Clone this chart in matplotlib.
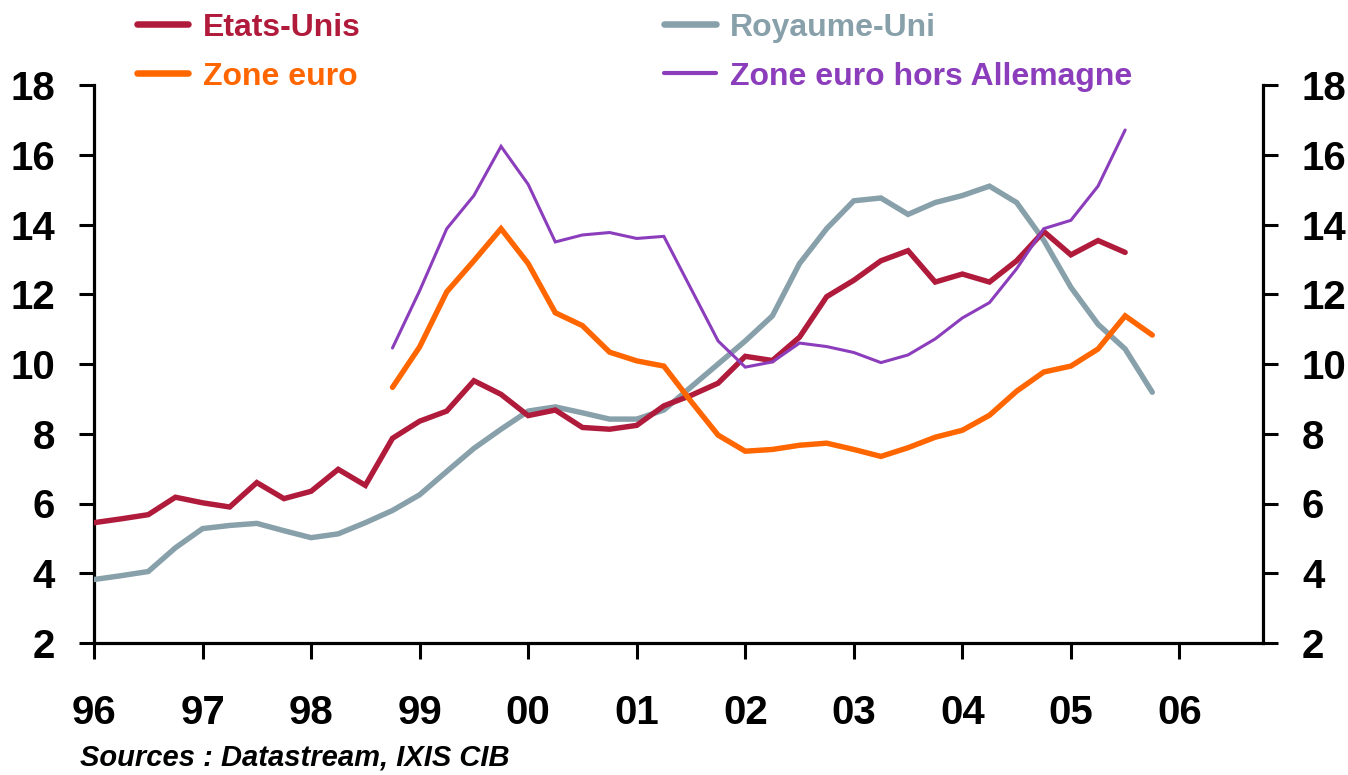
import matplotlib
matplotlib.use("Agg")
import matplotlib.pyplot as plt
from matplotlib.lines import Line2D
import numpy as np

plt.rcParams['font.family'] = ['Liberation Sans', 'DejaVu Sans']

# ---- data (quarterly) ----
us_start = 1996.0
us_vals = [5.45, 5.56, 5.68, 6.18, 6.02, 5.90, 6.60, 6.14, 6.35, 6.98, 6.52, 7.87,
           8.36, 8.65, 9.52, 9.13, 8.52, 8.68, 8.18, 8.13, 8.24, 8.80, 9.10, 9.45,
           10.22, 10.10, 10.77, 11.93, 12.40, 12.96, 13.25, 12.35, 12.58, 12.35,
           12.96, 13.80, 13.13, 13.54, 13.20]

uk_start = 1996.0
uk_vals = [3.82, 3.93, 4.05, 4.73, 5.28, 5.37, 5.43, 5.22, 5.02, 5.13, 5.45, 5.80,
           6.25, 6.92, 7.58, 8.13, 8.65, 8.77, 8.60, 8.42, 8.42, 8.68, 9.34, 10.00,
           10.66, 11.38, 12.88, 13.88, 14.68, 14.76, 14.29, 14.63, 14.83, 15.10,
           14.63, 13.55, 12.20, 11.14, 10.43, 9.19]

ez_start = 1998.75
ez_vals = [9.33, 10.49, 12.07, 12.96, 13.88, 12.88, 11.47, 11.10, 10.34, 10.09,
           9.94, 8.93, 7.96, 7.50, 7.55, 7.67, 7.73, 7.55, 7.35, 7.60, 7.90, 8.10,
           8.53, 9.22, 9.77, 9.94, 10.43, 11.38, 10.83]

ezx_start = 1998.75
ezx_vals = [10.46, 12.10, 13.88, 14.83, 16.24, 15.15, 13.50, 13.70, 13.77, 13.60,
            13.66, 12.16, 10.66, 9.91, 10.06, 10.60, 10.50, 10.33, 10.04, 10.26,
            10.72, 11.32, 11.76, 12.73, 13.88, 14.12, 15.10, 16.71]

year_ticks = [1996, 1997, 1998, 1999, 2000, 2001, 2002, 2003, 2004, 2005, 2006]
year_labels = ['96', '97', '98', '99', '00', '01', '02', '03', '04', '05', '06']
y_ticks = [2, 4, 6, 8, 10, 12, 14, 16, 18]

names = ['Etats-Unis', 'Royaume-Uni', 'Zone euro', 'Zone euro hors Allemagne']
colors = ['#B01B3C', '#87A0AA', '#FF6600', '#8B3DBC']
widths = [3.9, 3.9, 3.9, 2.2]


def qx(start, vals):
    return start + 0.25 * np.arange(len(vals))


fig = plt.figure(figsize=(13.48, 7.75), dpi=100)
ax = fig.add_axes([94/1348, 1 - 643/775, (1263-94)/1348, (643-85)/775])

series = [(us_start, us_vals), (uk_start, uk_vals), (ez_start, ez_vals), (ezx_start, ezx_vals)]
order = [1, 0, 2, 3]
for i in order:
    s, v = series[i]
    ax.plot(qx(s, v), v, color=colors[i], lw=widths[i], solid_capstyle='round',
            solid_joinstyle='miter', zorder=3)

ax.set_xlim(1996, 2006.77)
ax.set_ylim(2, 18)
ax.set_xticks(year_ticks)
ax.set_xticklabels(year_labels)
ax.set_yticks(y_ticks)
ax.set_yticklabels([str(t) for t in y_ticks])

for sp in ['left', 'right', 'bottom']:
    ax.spines[sp].set_linewidth(2.3)
ax.spines['top'].set_visible(False)

ax.tick_params(axis='x', direction='out', length=11.5, width=2.2, pad=25,
               labelsize=29)
ax.tick_params(axis='y', direction='out', length=11, width=2.2, pad=17,
               labelsize=29, right=True, labelright=True, left=True, labelleft=True)
for lab in ax.get_xticklabels() + ax.get_yticklabels():
    lab.set_fontweight('bold')
for t in ax.yaxis.get_major_ticks():
    t.label2.set_fontweight('bold')

# legend drawn manually at the top
leg_pos = [(137, 188, 203, 24), (664, 716, 730, 24), (137, 188, 203, 73), (664, 716, 730, 73)]
for (x0, x1, xt, yc), name, col, w in zip(leg_pos, names, colors, widths):
    fig.add_artist(Line2D([x0/1348, x1/1348], [1 - yc/775, 1 - yc/775],
                          transform=fig.transFigure, color=col, lw=w + 0.8,
                          solid_capstyle='round'))
    fig.text(xt/1348, 1 - (yc + 12)/775, name, color=col, fontsize=23,
             fontweight='bold', ha='left', va='baseline')

fig.text(80/1348, 1 - 766/775, 'Sources : Datastream, IXIS CIB', fontsize=21,
         fontweight='bold', fontstyle='italic', ha='left', va='baseline')

fig.savefig('out.png', dpi=100)
